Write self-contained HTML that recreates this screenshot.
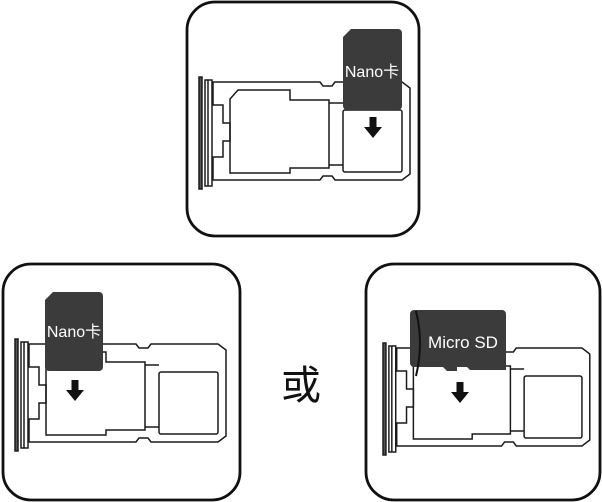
<!DOCTYPE html>
<html><head><meta charset="utf-8"><style>
html,body{margin:0;padding:0;background:#fff;}
svg{display:block;}
text{font-family:"Liberation Sans","Noto Sans CJK SC",sans-serif;}
</style></head><body>
<svg width="602" height="502" viewBox="0 0 602 502" xmlns="http://www.w3.org/2000/svg">
<defs>
<g id="tray" fill="none" stroke="#1a1a1a" stroke-width="1.5">
  <rect x="0" y="0" width="3" height="112" fill="#555"/>
  <rect x="6" y="3" width="7" height="106"/>
  <line x1="9" y1="3" x2="9" y2="109"/>
  <path d="M13,5 H121 l3,4 h9 l3,-4 H203 l8,6 V97 l-8,6 H136 l-3,-4 h-9 l-3,4 H13"/>
  <path d="M14,5 V28 H24 V46 H31 V64 H24 V80 H14 V103"/>
  <path d="M31,96 V22 l8,-9 H91 V23 H130 V91 H91 V96 Z"/>
  <path d="M130,26 H144 M130,88 H144"/>
  <rect x="144" y="33" width="59" height="62" rx="2"/>
</g>
<g id="arrow"><path d="M-3.5,0 H3.5 V10 H9 L0,21 L-9,10 H-3.5 Z" fill="#111"/></g>
</defs>

<!-- top panel -->
<rect x="187" y="2" width="232" height="234" rx="28" fill="none" stroke="#111" stroke-width="2.8"/>
<use href="#tray" transform="translate(199,77)"/>
<path d="M351,29 H398 a4,4 0 0 1 4,4 V106 a4,4 0 0 1 -4,4 H347 a4,4 0 0 1 -4,-4 V37 Z" fill="#3b3b3b"/>
<text x="372" y="77" font-size="16" fill="#fff" text-anchor="middle">Nano卡</text>
<use href="#arrow" transform="translate(373,117)"/>

<!-- bottom left panel -->
<rect x="3" y="264" width="237" height="236" rx="28" fill="none" stroke="#111" stroke-width="2.8"/>
<use href="#tray" transform="translate(15,339)"/>
<path d="M53,292 H99 a4,4 0 0 1 4,4 V367 a4,4 0 0 1 -4,4 H49 a4,4 0 0 1 -4,-4 V300 Z" fill="#3b3b3b"/>
<text x="74" y="337" font-size="16" fill="#fff" text-anchor="middle">Nano卡</text>
<use href="#arrow" transform="translate(75,380)"/>

<!-- or -->
<text x="301" y="399" font-size="40" fill="#111" text-anchor="middle">或</text>

<!-- bottom right panel -->
<rect x="366" y="264" width="234" height="236" rx="28" fill="none" stroke="#111" stroke-width="2.8"/>
<use href="#tray" transform="translate(383,343) scale(0.98,1)"/>
<path d="M414,310 H502 a4,4 0 0 1 4,4 V370 H470 l-3,-3 h-10 v4 h-10 l-4,-4 H414 a4,4 0 0 1 -4,-4 V314 a4,4 0 0 1 4,-4 Z" fill="#3b3b3b"/>
<path d="M416,311 Q424,343 416,376" fill="none" stroke="#111" stroke-width="2"/>
<text x="463" y="348" font-size="17" fill="#fff" text-anchor="middle">Micro SD</text>
<use href="#arrow" transform="translate(460,382)"/>
</svg>
</body></html>
